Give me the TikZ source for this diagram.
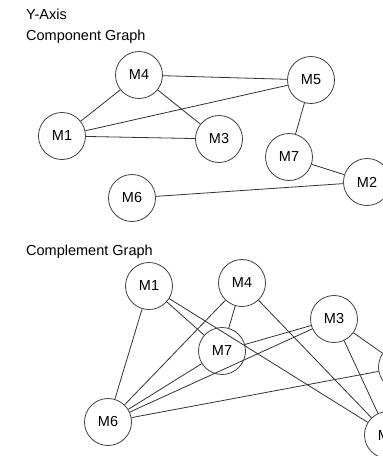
\documentclass[tikz,border=0pt]{standalone}
\usepackage{fontspec}
\setmainfont{Liberation Sans}
\begin{document}
\begin{tikzpicture}[x=1pt,y=-1pt,
  vnode/.style={circle,draw=black!75,line width=0.8pt,minimum size=47pt,inner sep=0pt,font=\fontsize{14.5}{16}\selectfont},
  edge/.style={draw=black!80,line width=0.8pt},
  title/.style={anchor=base west,inner sep=0pt,font=\fontsize{14.5}{16}\selectfont}]
\useasboundingbox (0,0) rectangle (383,456);
\clip (0,0) rectangle (383,456);
\fill[white] (0,0) rectangle (383,456);

\node[title] (ty) at (26,19) {Y-Axis};
\node[title] (tc) at (26,40) {Component Graph};
\node[title] (tk) at (26,255) {Complement Graph};

% Component graph
\node[vnode] (a4) at (139,75) {M4};
\node[vnode] (a5) at (311,80) {M5};
\node[vnode] (a1) at (62,136) {M1};
\node[vnode] (a3) at (219,139) {M3};
\node[vnode] (a7) at (289,157) {M7};
\node[vnode] (a2) at (367,182) {M2};
\node[vnode] (a6) at (132,198) {M6};
\draw[edge] (a4) -- (a5);
\draw[edge] (a4) -- (a1);
\draw[edge] (a4) -- (a3);
\draw[edge] (a1) -- (a5);
\draw[edge] (a1) -- (a3);
\draw[edge] (a5) -- (a7);
\draw[edge] (a7) -- (a2);
\draw[edge] (a6) -- (a2);

% Complement graph
\node[vnode] (b1) at (149,286) {M1};
\node[vnode] (b4) at (242,283) {M4};
\node[vnode] (b7) at (222,351) {M7};
\node[vnode] (b3) at (334,319) {M3};
\node[vnode] (b6) at (108,422) {M6};
\node[vnode] (b5) at (402,367) {M5};
\node[vnode] (b2) at (388,435) {M2};
\draw[edge] (b1) -- (b2);
\draw[edge] (b1) -- (b6);
\draw[edge] (b1) -- (b7);
\draw[edge] (b2) -- (b3);
\draw[edge] (b2) -- (b4);
\draw[edge] (b2) -- (b5);
\draw[edge] (b3) -- (b5);
\draw[edge] (b3) -- (b6);
\draw[edge] (b3) -- (b7);
\draw[edge] (b4) -- (b6);
\draw[edge] (b4) -- (b7);
\draw[edge] (b5) -- (b6);
\draw[edge] (b6) -- (b7);
\end{tikzpicture}
\end{document}
